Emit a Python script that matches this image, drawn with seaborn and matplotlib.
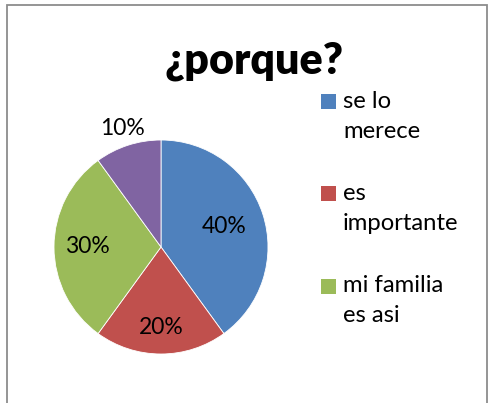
import numpy as np
import seaborn as sns
import matplotlib
matplotlib.use('Agg')
import matplotlib.pyplot as plt
from matplotlib.patches import Rectangle

# Datos
categorias = ['se lo\nmerece', 'es\nimportante', 'mi familia\nes asi', 'otros']
valores = [40, 20, 30, 10]
colores = ['#4F81BD', '#C0504D', '#9BBB59', '#8064A2']
dist_etiqueta = [0.62, 0.75, 0.69, 1.16]

sns.set_theme(style='white')
plt.rcParams['font.family'] = ['Lato', 'DejaVu Sans']

W, H = 489, 403
fig = plt.figure(figsize=(W / 100, H / 100), dpi=100)

# Borde del area del grafico
fig.patches.append(Rectangle((7 / W, -0.05), 480 / W, (H - 5) / H + 0.05,
                             transform=fig.transFigure, fill=False,
                             edgecolor='#8c8c8c', linewidth=1.3))

# Pastel
cx, cy, R = 161, H - 247, 107
lim = 1.3
ax = fig.add_axes([(cx - lim * R) / W, (cy - lim * R) / H,
                   2 * lim * R / W, 2 * lim * R / H])
wedges, _ = ax.pie(valores, colors=colores, startangle=90, counterclock=False,
                   radius=1, wedgeprops=dict(edgecolor='white', linewidth=0.6))
ax.set_xlim(-lim, lim)
ax.set_ylim(-lim, lim)
ax.set_aspect('equal')
ax.axis('off')

for w, v, d in zip(wedges, valores, dist_etiqueta):
    ang = np.deg2rad((w.theta1 + w.theta2) / 2)
    ax.text(d * np.cos(ang), d * np.sin(ang), f'{v}%', ha='center', va='center',
            fontsize=16.5, color='black')

fig.text(254 / W, 1 - 61 / H, '¿porque?', ha='center', va='center',
         fontsize=31, fontweight='heavy', color='black')

# Leyenda (solo caben tres entradas)
y0, paso, interlinea, caja = 101, 92.5, 30, 15
for i, (cat, col) in enumerate(zip(categorias[:3], colores[:3])):
    y = y0 + i * paso
    fig.patches.append(Rectangle((321 / W, 1 - (y + caja / 2) / H), caja / W, caja / H,
                                 transform=fig.transFigure, facecolor=col,
                                 edgecolor='none'))
    for k, linea in enumerate(cat.split('\n')):
        fig.text(343 / W, 1 - (y + k * interlinea) / H, linea, ha='left',
                 va='center', fontsize=17.2, color='black')

fig.savefig('out.png', dpi=100)
